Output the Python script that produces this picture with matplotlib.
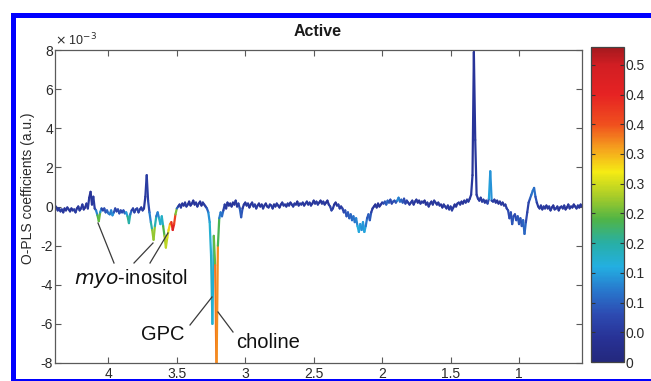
import numpy as np
import matplotlib
matplotlib.use("Agg")
import matplotlib.pyplot as plt
from matplotlib.collections import LineCollection
from matplotlib.colors import LinearSegmentedColormap, Normalize
from matplotlib.patches import Rectangle
from matplotlib.ticker import FuncFormatter

plt.rcParams['font.family'] = ['Liberation Sans', 'DejaVu Sans']
plt.rcParams['axes.unicode_minus'] = False

# ---------------- data ----------------
title = "Active"
ylabel = "O-PLS coefficients (a.u.)"
ppm_start = 4.39      # first sample (ppm)
ppm_step = 0.01       # sampling interval (ppm)

# O-PLS coefficients, units of 1e-3, from 4.39 ppm down to 0.54 ppm
coef_milli = [
    0.05, -0.05, -0.2, -0.1, -0.25, -0.15, -0.3, -0.1, -0.2, -0.05,    # 4.39
    -0.15, -0.25, -0.1, -0.2, -0.15, -0.3, -0.1, 0.0, -0.2, -0.1,      # 4.29
    0.1, -0.15, -0.05, 0.15, -0.1, 0.45, 0.75, 0.1, 0.5, -0.1,         # 4.19
    -0.2, -0.45, -0.75, -0.3, -0.1, -0.2, -0.1, -0.3, -0.2, -0.35,     # 4.09
    -0.4, -0.2, -0.45, -0.3, -0.1, -0.25, -0.15, -0.35, -0.2, -0.3,    # 3.99
    -0.2, -0.35, -0.3, -0.5, -0.85, -0.4, -0.2, -0.1, -0.3, -0.15,     # 3.89
    -0.1, -0.3, -0.15, -0.05, -0.2, -0.1, 0.5, 1.6, 0.3, -0.3,         # 3.79
    -0.8, -1.2, -1.7, -1.0, -0.5, -0.3, -0.6, -0.9, -0.5, -1.0,        # 3.69
    -1.5, -2.1, -1.6, -1.2, -0.9, -0.8, -1.2, -0.9, -0.4, -0.1,        # 3.59
    0.0, 0.1, -0.05, 0.15, 0.05, 0.2, 0.0, 0.1, 0.25, 0.05,            # 3.49
    0.15, 0.3, 0.1, 0.2, 0.0, 0.15, 0.25, 0.05, 0.2, 0.1,              # 3.39
    0.0, -0.1, -0.3, -0.8, -2.5, -6.0, -1.5, -3.0, -8.6, -2.0,         # 3.29
    -0.6, -0.3, -0.5, -0.2, 0.1, -0.1, 0.2, 0.05, 0.15, 0.0,           # 3.19
    0.2, 0.1, 0.3, 0.0, 0.15, -0.1, -0.55, -0.1, 0.1, 0.2,             # 3.09
    0.05, 0.15, -0.05, 0.1, 0.2, 0.0, 0.1, -0.1, 0.05, 0.15,           # 2.99
    0.0, 0.1, -0.1, 0.05, 0.15, 0.0, -0.05, 0.1, 0.05, -0.1,           # 2.89
    0.1, 0.0, 0.15, 0.05, -0.05, 0.1, 0.2, 0.05, 0.1, 0.0,             # 2.79
    0.15, 0.05, 0.2, 0.1, 0.0, 0.15, 0.1, 0.25, 0.05, 0.15,            # 2.69
    0.1, 0.2, 0.05, 0.15, 0.25, 0.1, 0.2, 0.05, 0.15, 0.3,             # 2.59
    0.15, 0.25, 0.1, 0.2, 0.3, 0.15, 0.25, 0.1, 0.2, 0.3,              # 2.49
    0.1, 0.0, -0.2, -0.1, 0.1, 0.2, 0.05, 0.1, -0.1, 0.0,              # 2.39
    -0.1, -0.3, -0.2, -0.5, -0.3, -0.6, -0.4, -0.7, -0.5, -0.8,        # 2.29
    -0.6, -1.0, -1.3, -0.9, -1.2, -0.8, -1.3, -1.0, -0.6, -0.4,        # 2.19
    -0.7, -0.3, -0.1, 0.0, 0.1, -0.05, 0.15, 0.0, 0.1, 0.2,            # 2.09
    0.15, 0.25, 0.1, 0.3, 0.2, 0.35, 0.15, 0.25, 0.3, 0.2,             # 1.99
    0.3, 0.45, 0.25, 0.35, 0.2, 0.4, 0.15, 0.3, 0.2, 0.1,              # 1.89
    0.2, 0.3, 0.1, 0.25, 0.35, 0.2, 0.3, 0.15, 0.25, 0.2,              # 1.79
    0.3, 0.1, 0.2, 0.0, 0.15, 0.25, 0.1, 0.3, 0.2, 0.1,                # 1.69
    0.2, 0.05, 0.1, -0.05, 0.1, 0.0, -0.1, 0.05, -0.15, 0.0,           # 1.59
    -0.2, -0.05, 0.1, 0.0, 0.15, 0.2, 0.1, 0.25, 0.15, 0.3,            # 1.49
    0.2, 0.35, 0.25, 0.4, 0.6, 1.6, 7.9, 3.4, 0.6, 0.4,                # 1.39
    0.3, 0.45, 0.25, 0.35, 0.2, 0.3, 0.15, 0.4, 1.8, 0.3,              # 1.29
    0.25, 0.35, 0.2, 0.3, 0.15, 0.25, 0.1, 0.2, 0.05, 0.1,             # 1.19
    -0.1, -0.2, -0.6, -0.3, -0.9, -0.5, -0.4, -0.7, -0.5, -0.9,        # 1.09
    -0.6, -1.0, -0.7, -1.4, -0.8, -0.3, 0.2, 0.4, 0.6, 0.8,            # 0.99
    0.95, 0.5, 0.2, 0.0, -0.1, 0.05, -0.15, 0.0, -0.1, 0.05,           # 0.89
    -0.1, 0.0, -0.2, -0.05, 0.05, -0.15, -0.1, 0.0, -0.2, -0.05,       # 0.79
    0.0, -0.1, 0.05, -0.15, -0.05, 0.1, -0.1, 0.0, -0.05, 0.1,         # 0.69
    0.0, -0.1, 0.05, -0.05, 0.1, 0.0,                                  # 0.59
]

# correlation (r^2) used for colouring, same sampling
corr = [
    .05, .04, .06, .05, .07, .05, .06, .04, .05, .05,
    .05, .06, .04, .05, .05, .07, .05, .04, .06, .05,
    .05, .05, .04, .05, .06, .05, .04, .05, .05, .06,
    .08, .18, .30, .20, .08, .06, .07, .10, .08, .12,
    .14, .10, .16, .12, .06, .08, .06, .10, .07, .09,
    .07, .10, .12, .18, .24, .15, .07, .05, .08, .05,
    .06, .08, .06, .05, .07, .05, .05, .06, .06, .10,
    .15, .24, .30, .24, .14, .10, .16, .20, .14, .22,
    .26, .30, .28, .33, .34, .40, .48, .45, .38, .14,
    .06, .05, .06, .05, .04, .05, .06, .05, .05, .04,
    .05, .05, .04, .05, .06, .05, .05, .04, .05, .06,
    .06, .08, .12, .16, .18, .18, .16, .34, .42, .32,
    .15, .10, .14, .08, .05, .06, .05, .05, .04, .05,
    .05, .04, .05, .06, .05, .08, .12, .06, .05, .05,
    .05, .06, .05, .04, .05, .06, .05, .07, .05, .04,
    .05, .04, .06, .05, .05, .04, .06, .05, .05, .07,
    .04, .05, .05, .06, .05, .04, .05, .06, .05, .05,
    .05, .06, .04, .05, .05, .06, .05, .04, .05, .06,
    .06, .05, .05, .04, .06, .05, .05, .06, .04, .05,
    .05, .05, .06, .05, .04, .05, .06, .05, .05, .04,
    .05, .06, .08, .06, .05, .04, .05, .06, .07, .05,
    .06, .08, .07, .10, .08, .11, .09, .12, .10, .13,
    .11, .15, .18, .13, .16, .12, .17, .14, .10, .08,
    .12, .07, .05, .05, .04, .05, .05, .04, .05, .05,
    .06, .10, .08, .12, .08, .10, .06, .08, .10, .06,
    .12, .15, .10, .12, .08, .10, .06, .08, .06, .05,
    .05, .06, .05, .05, .06, .05, .04, .05, .06, .05,
    .05, .04, .05, .06, .05, .05, .04, .06, .05, .05,
    .05, .06, .05, .04, .05, .06, .05, .05, .06, .05,
    .07, .05, .04, .05, .05, .06, .05, .05, .04, .05,
    .05, .05, .06, .05, .05, .05, .04, .05, .05, .06,
    .05, .06, .05, .06, .05, .05, .06, .10, .20, .08,
    .05, .06, .05, .05, .04, .05, .06, .05, .05, .06,
    .06, .07, .09, .07, .10, .08, .07, .09, .08, .10,
    .08, .10, .09, .12, .09, .06, .07, .09, .11, .12,
    .12, .10, .07, .05, .05, .06, .05, .05, .06, .05,
    .05, .05, .06, .05, .04, .05, .06, .05, .05, .04,
    .05, .06, .05, .05, .04, .05, .06, .05, .05, .04,
    .05, .05, .06, .05, .04, .05,
]

x_ticks = [4, 3.5, 3, 2.5, 2, 1.5, 1]
x_limits = (4.39, 0.54)
y_ticks_milli = [-8, -6, -4, -2, 0, 2, 4, 6, 8]
cbar_max = 0.53
cbar_ticks = [0, 0.05, 0.1, 0.15, 0.2, 0.25, 0.3, 0.35, 0.4, 0.45, 0.5]
cbar_ticklabels = ["0", "0.0", "0.1", "0.1", "0.2", "0.2", "0.3", "0.3", "0.4", "0.4", "0.5"]

# ---------------- figure ----------------
W, H, DPI = 651, 381, 100
fig = plt.figure(figsize=(W / DPI, H / DPI), dpi=DPI)
fig.patch.set_facecolor('white')

def fx(px):
    return px / W

def fy(py):
    return 1 - py / H

ax = fig.add_axes([fx(55), fy(363), fx(582) - fx(55), fy(50) - fy(363)])
cax = fig.add_axes([fx(591), fy(362), fx(624) - fx(591), fy(47) - fy(362)])

cmap = LinearSegmentedColormap.from_list("jetlike", [
    (0.00 / cbar_max, (35 / 255, 40 / 255, 125 / 255)),
    (0.04 / cbar_max, (40 / 255, 50 / 255, 150 / 255)),
    (0.08 / cbar_max, (45 / 255, 75 / 255, 178 / 255)),
    (0.12 / cbar_max, (40 / 255, 120 / 255, 205 / 255)),
    (0.16 / cbar_max, (35 / 255, 175 / 255, 225 / 255)),
    (0.20 / cbar_max, (40 / 255, 175 / 255, 165 / 255)),
    (0.24 / cbar_max, (80 / 255, 180 / 255, 70 / 255)),
    (0.28 / cbar_max, (170 / 255, 205 / 255, 40 / 255)),
    (0.32 / cbar_max, (245 / 255, 235 / 255, 20 / 255)),
    (0.36 / cbar_max, (245 / 255, 160 / 255, 30 / 255)),
    (0.40 / cbar_max, (240 / 255, 80 / 255, 30 / 255)),
    (0.45 / cbar_max, (230 / 255, 35 / 255, 35 / 255)),
    (0.50 / cbar_max, (210 / 255, 30 / 255, 35 / 255)),
    (1.00, (165 / 255, 25 / 255, 30 / 255)),
])
norm = Normalize(0, cbar_max)

coef = np.array(coef_milli) * 1e-3
rvals = np.array(corr)
ppm = np.round(ppm_start - ppm_step * np.arange(len(coef)), 3)

pts = np.column_stack([ppm, coef]).reshape(-1, 1, 2)
segs = np.concatenate([pts[:-1], pts[1:]], axis=1)
seg_r = 0.5 * (rvals[:-1] + rvals[1:])
lc = LineCollection(segs, cmap=cmap, norm=norm, linewidths=1.6, capstyle='round', joinstyle='round')
lc.set_array(seg_r)
ax.add_collection(lc)

ax.set_xlim(*x_limits)
ax.set_ylim(-8e-3, 8e-3)
ax.set_xticks(x_ticks)
ax.set_xticklabels([f"{t:g}" for t in x_ticks])
ax.set_yticks(np.array(y_ticks_milli) * 1e-3)
ax.yaxis.set_major_formatter(FuncFormatter(lambda v, p: f"{v * 1e3:.0f}"))

spine_col = '#5a5a5a'
for s in ax.spines.values():
    s.set_color(spine_col)
    s.set_linewidth(0.9)
ax.tick_params(direction='in', length=4, width=0.8, color=spine_col,
               top=True, right=True, labelsize=10, labelcolor='#2a2a2a')
ax.tick_params(axis='y', pad=1.5)
ax.tick_params(axis='x', pad=3)

# colorbar
cb = fig.colorbar(plt.cm.ScalarMappable(norm=norm, cmap=cmap), cax=cax)
cb.set_ticks(cbar_ticks)
cb.set_ticklabels(cbar_ticklabels)
cb.outline.set_edgecolor('#444444')
cb.outline.set_linewidth(0.9)
cax.tick_params(direction='in', length=3, width=0.8, color='#333333', left=True, right=True,
                labelsize=10, labelcolor='#2a2a2a', pad=1)

# texts
fig.text(fx(318), fy(31), title, ha='center', va='center', fontsize=11.5, fontweight='bold', color='#1a1a1a')
fig.text(fx(28), fy(188), ylabel, ha='center', va='center', rotation=90, fontsize=10, color='#2a2a2a')
ax.text(0.0, 1.005, r"$\times$ 10$^{-3}$", transform=ax.transAxes, ha='left', va='bottom',
        fontsize=9, color='#2a2a2a')

def px2data(px, py):
    disp = fig.transFigure.transform((fx(px), fy(py)))
    return ax.transData.inverted().transform(disp)

ann_col = '#3a3a3a'
fig.text(fx(131), fy(279), r"$\mathit{myo}$-inositol", ha='center', va='center', fontsize=14.5,
         color='#111111')
fig.text(fx(163), fy(335), "GPC", ha='center', va='center', fontsize=14.5, color='#111111')
fig.text(fx(268), fy(343), "choline", ha='center', va='center', fontsize=14.5, color='#111111')

lines_px = [((114, 263), (98, 223)), ((134, 263), (153, 243)), ((150, 263), (168, 233)),
            ((190, 325), (212, 297)), ((233, 332), (218, 312))]
for (a, b) in lines_px:
    p0 = px2data(*a)
    p1 = px2data(*b)
    ax.plot([p0[0], p1[0]], [p0[1], p1[1]], color=ann_col, lw=0.9, zorder=5)

# blue frame
fig.add_artist(Rectangle((fx(13), fy(381.5)), 1.05 - fx(13), fy(15.5) - fy(381.5), transform=fig.transFigure,
                         fill=False, edgecolor='#0000ff', linewidth=3.6, clip_on=False))

fig.savefig("out.png", dpi=DPI)
